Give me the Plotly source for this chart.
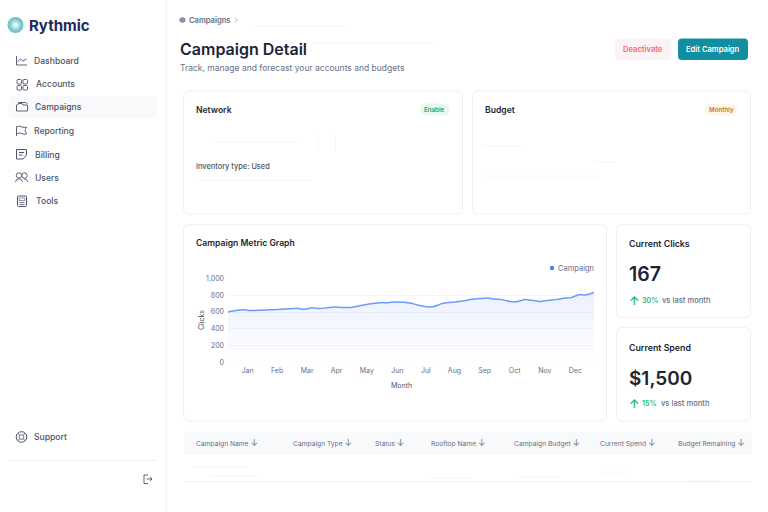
import plotly.graph_objects as go

# ---- chart data ----
weeks = list(range(49))
clicks = [600,617,628,618,620,625,628,632,638,645,632,650,642,650,660,653,655,670,688,702,
          712,712,720,716,705,680,663,665,700,713,722,735,752,762,768,755,745,725,725,750,
          738,726,740,748,765,772,805,805,833]
month_labels = ["Jan","Feb","Mar","Apr","May","Jun","Jul","Aug","Sep","Oct","Nov","Dec"]
month_weeks = [2.57,6.44,10.37,14.23,18.2,22.2,25.95,29.7,33.65,37.6,41.55,45.55]
click_ticks = [0,200,400,600,800,1000]
series_name = "Campaign"

# ---- page text ----
nav_items = ["Dashboard","Accounts","Campaigns","Reporting","Billing","Users","Tools"]
table_headers = ["Campaign Name","Campaign Type","Status","Rooftop Name","Campaign Budget","Current Spend","Budget Remaining"]

FONT = "Inter"
W, H = 768, 512
INK = "#1D2433"
GREY = "#667085"
NAV = "#4A5468"
GREEN = "#2BB673"
BORDER = "#EEF0F3"

fig = go.Figure()
# invisible page-pixel layer (first subplot) that carries the surrounding dashboard chrome
fig.add_trace(go.Scatter(x=[0], y=[0], xaxis="x", yaxis="y", mode="markers",
                         marker=dict(opacity=0), showlegend=False, hoverinfo="skip"))
fig.add_trace(go.Scatter(
    x=weeks, y=clicks, xaxis="x2", yaxis="y2", mode="lines", name=series_name, showlegend=False,
    line=dict(color="#6E9BF7", width=1.5, shape="spline", smoothing=0.5),
    fill="tozeroy",
    fillgradient=dict(type="vertical",
                      colorscale=[[0, "rgba(76,125,245,0.0)"], [1, "rgba(76,125,245,0.11)"]]),
))

shapes, notes = [], []

def rr(x0, y0, x1, y1, r):
    return (f"M{x0+r},{y0} L{x1-r},{y0} Q{x1},{y0} {x1},{y0+r} L{x1},{y1-r} Q{x1},{y1} {x1-r},{y1} "
            f"L{x0+r},{y1} Q{x0},{y1} {x0},{y1-r} L{x0},{y0+r} Q{x0},{y0} {x0+r},{y0} Z")

def path(d, fill=None, line=None, width=1.0, layer="below"):
    s = dict(type="path", path=d, xref="x", yref="y", layer=layer,
             line=dict(color=line or "rgba(0,0,0,0)", width=width if line else 0))
    if fill:
        s["fillcolor"] = fill
    shapes.append(s)

def box(x0, y0, x1, y1, r=0, fill=None, line=None, width=1.0):
    path(rr(x0, y0, x1, y1, r) if r else f"M{x0},{y0} L{x1},{y0} L{x1},{y1} L{x0},{y1} Z", fill, line, width)

def seg(x0, y0, x1, y1, color=BORDER, width=1.0):
    path(f"M{x0},{y0} L{x1},{y1}", None, color, width)

def circ(cx, cy, r, fill=None, line=None, width=1.0):
    shapes.append(dict(type="circle", xref="x", yref="y", x0=cx-r, x1=cx+r, y0=cy-r, y1=cy+r,
                       layer="below", fillcolor=fill or "rgba(0,0,0,0)",
                       line=dict(color=line or "rgba(0,0,0,0)", width=width if line else 0)))

def text(x, y, s, size=9, color=INK, weight=500, anchor="left", angle=0):
    notes.append(dict(x=x, y=y, xref="x", yref="y", text=s, showarrow=False, textangle=angle,
                      xanchor=anchor, yanchor="middle", borderpad=0, borderwidth=0,
                      font=dict(family=FONT, size=size, color=color, weight=weight)))

# sidebar
seg(166.5, 0, 166.5, 512, "#EFF1F4")
for r, c in [(8, "#6FC2CA"), (6.6, "#7CCAD0"), (4.8, "#A6DEE0"), (2.8, "#DDF3F4")]:
    circ(15.5, 25, r, fill=c)
text(29, 25, "Rythmic", 15, "#1E2A5A", 700)
box(8.5, 96, 157, 118, 4, fill="#F8F9FB")
nav_x = [34, 35.5, 34.5, 34, 34.5, 34.5, 35.5]
nav_y = [60.5, 84, 107, 131, 154.5, 178, 201]
for label, x, y in zip(nav_items, nav_x, nav_y):
    text(x, y, label, 8.6, NAV, 500)
ic = "#4A5468"
path("M16.5,56 L16.5,65 L27,65 M17.5,61.5 L20.5,59 L23,61 L26.5,59", None, ic, 0.9)
for x, y in [(17, 79.5), (23, 79.5), (17, 85.5), (23, 85.5)]:
    box(x, y, x+4.5, y+4.5, 1, line=ic, width=0.9)
path("M16.5,111 L16.5,105 L19,103.5 L22,103.5 L23,105 L27.5,105 L27.5,111 Z M18.5,103.5 L18.5,102.5 L26,102.5 L27.5,104", None, ic, 0.9)
path("M16.5,136 L16.5,126.5 Q20,125.5 22,127 Q24,128 26.5,127 L25,130.5 L26.5,134 Q24,135 22,133.5 Q20,132.5 16.5,133.5", None, ic, 0.9)
path("M16.5,149.5 L26.5,149.5 L26.5,155 L23,159 L16.5,159 Z M19,152.5 L24,152.5 M19,155 L22.5,155", None, ic, 1.0)
circ(19, 175.5, 2.7, line=ic, width=0.9)
circ(24.5, 175.5, 2.7, line=ic, width=0.9)
path("M15.5,182 Q16,178.7 19,178.7 Q22,178.7 22.5,182 M23.5,178.7 Q27,178.7 28,182", None, ic, 0.9)
box(17.5, 196, 26.5, 206.5, 1, line=ic, width=1.0)
box(19.2, 198, 24.8, 200.5, 0, line=ic, width=0.6)
path("M19.5,202.5 L24.5,202.5 M19.5,204.5 L24.5,204.5", None, ic, 0.8)
circ(21.5, 437, 5.3, line=ic, width=1.0)
circ(21.5, 437, 2.4, line=ic, width=0.8)
path("M17.8,433.3 L19.8,435.3 M25.2,433.3 L23.2,435.3 M17.8,440.7 L19.8,438.7 M25.2,440.7 L23.2,438.7", None, ic, 0.8)
text(34, 437, "Support", 8.6, NAV, 500)
seg(8.5, 460.5, 157, 460.5)
path("M148,475 L144,475 L144,483.5 L148,483.5 M146.5,479 L152,479 M150,477 L152,479 L150,481", None, ic, 0.9)

# header
path("M179.5,18.5 L182.5,17 L185.5,18.5 L185.5,21.5 L182.5,23 L179.5,21.5 Z", fill="#8A93A3")
text(189, 20.3, "Campaigns", 7.6, GREY, 600)
path("M235,18 L237.3,20.3 L235,22.6", None, "#98A1B0", 0.8)
text(180, 48.5, "Campaign Detail", 16, INK, 600)
text(180, 67.5, "Track, manage and forecast your accounts and budgets", 8.5, GREY, 400)
box(615, 38.5, 671.5, 60, 4, fill="#FBF3F4")
text(643.3, 49.2, "Deactivate", 7.6, "#F4686C", 600, "center")
box(678, 38.5, 748, 60, 4, fill="#118E9F")
text(713, 49.2, "Edit Campaign", 7.6, "#FFFFFF", 600, "center")

# cards
for c in [(183.5, 91, 462.5, 214), (472.5, 91, 750.5, 214), (183.5, 224.5, 606.5, 421),
          (616.5, 224.5, 750.5, 317.5), (616.5, 327.5, 750.5, 421)]:
    box(*c, 6, fill="#FFFFFF", line=BORDER, width=1)
text(196, 110, "Network", 8.6, INK, 600)
box(420, 103.5, 449.5, 115.5, 6, fill="#E8F8EF")
text(434.8, 109.5, "Enable", 6.2, "#2E9E6B", 600, "center")
text(196, 166.5, "Inventory type: Used", 7.4, NAV, 500)
text(485, 110, "Budget", 8.6, INK, 600)
box(705, 103.5, 737, 115.5, 6, fill="#FEF5E9")
text(721, 109.5, "Monthly", 6.2, "#C4773B", 600, "center")
text(196, 243, "Campaign Metric Graph", 8.6, INK, 600)

# faint residual strokes in the cards and table rows
for x0, y0, x1, y1 in [(215, 142, 300, 142), (318.5, 134, 318.5, 152), (335.5, 134, 335.5, 152),
                       (198, 180.5, 312, 180.5), (482, 146, 522, 146), (594, 162, 616, 162),
                       (482, 176, 600, 176), (312, 43, 436, 43), (255, 26, 348, 26),
                       (192, 467, 248, 467), (211, 476, 258, 476), (429, 478, 472, 478),
                       (517, 477, 560, 477), (600, 472, 625, 472), (690, 481, 718, 481)]:
    seg(x0, y0, x1, y1, "#F3F4F6", 0.8)

# legend
circ(552, 268, 2.2, fill="#4C7DF5")
text(558, 268, series_name, 7.5, GREY, 400)

# axis titles
text(401, 385.3, "Month", 7, NAV, 400, "center")
text(201, 320, "Clicks", 7, NAV, 400, "center", -90)

# stat cards
text(629, 243, "Current Clicks", 8.8, INK, 600)
text(629, 274.3, "167", 19.5, INK, 600)
text(629, 300, "↑", 12, GREEN, 600)
text(642, 300, "30%", 7.2, GREEN, 600)
text(662, 300, "vs last month", 7.6, GREY, 500)
text(629, 347, "Current Spend", 8.8, INK, 600)
text(629, 378, "$1,500", 19, INK, 600)
text(629, 403.5, "↑", 12, GREEN, 600)
text(642, 403.5, "15%", 7.2, GREEN, 600)
text(661, 403.5, "vs last month", 7.6, GREY, 500)

# table
box(184, 431.5, 752, 455, 0, fill="#F8F9FB")
seg(184, 481.5, 752, 481.5)
for label, x in zip(table_headers, [196, 293, 374.5, 430.5, 514, 600, 678]):
    text(x, 442.5, label + " <span style='font-size:9px'>↓</span>", 6.7, GREY, 400)

axis_font = dict(family=FONT, size=7, color=GREY)
fig.update_layout(
    width=W, height=H, margin=dict(l=0, r=0, t=0, b=0), autosize=False,
    paper_bgcolor="#FFFFFF", plot_bgcolor="rgba(0,0,0,0)", showlegend=False,
    font=dict(family=FONT),
    xaxis=dict(domain=[0, 1], range=[0, W], visible=False, fixedrange=True, anchor="y", automargin=False),
    yaxis=dict(domain=[0, 1], range=[H, 0], visible=False, fixedrange=True, anchor="x", automargin=False),
    xaxis2=dict(domain=[228/W, 594/W], range=[0, 48], tickmode="array", tickvals=month_weeks,
                ticktext=month_labels, showgrid=False, zeroline=False, showline=False, ticks="",
                tickfont=axis_font, ticklabelstandoff=3, anchor="y2", automargin=False),
    yaxis2=dict(domain=[1-362.3/H, 1-278.5/H], range=[0, 1000], tickmode="array", tickvals=click_ticks,
                tickformat=",d", showgrid=True, gridcolor="#F3F5F8", gridwidth=1, zeroline=False,
                showline=False, ticks="", tickfont=axis_font, ticklabelstandoff=3, anchor="x2", automargin=False),
    shapes=shapes, annotations=notes,
)
fig.write_html("out.html", config={"displayModeBar": False},
               post_script="document.body.style.margin='0';document.body.style.overflow='hidden';")
